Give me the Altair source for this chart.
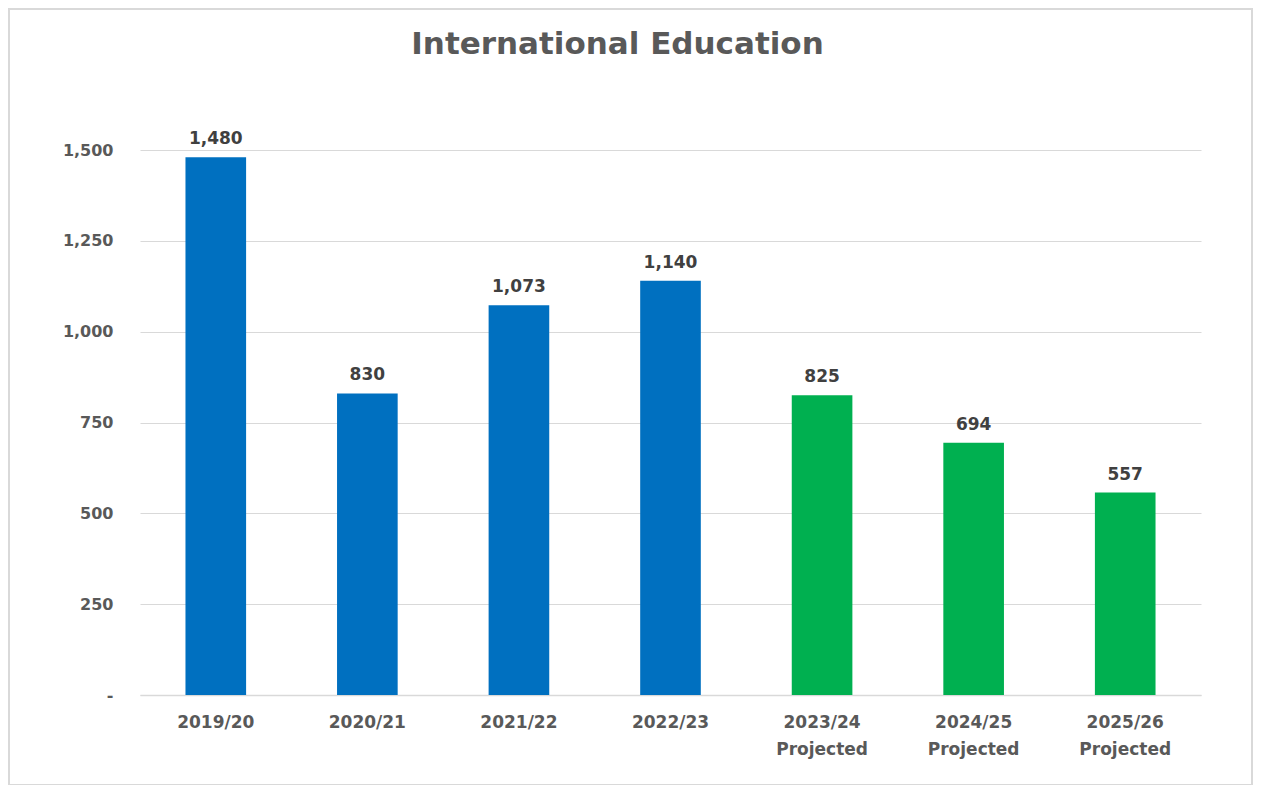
import altair as alt
import pandas as pd

years = ["2019/20", "2020/21", "2021/22", "2022/23",
         "2023/24|Projected", "2024/25|Projected", "2025/26|Projected"]
values = [1480, 830, 1073, 1140, 825, 694, 557]
kind = ["Actual", "Actual", "Actual", "Actual", "Projected", "Projected", "Projected"]
y_ticks = [0, 250, 500, 750, 1000, 1250, 1500]

df = pd.DataFrame({"year": years, "value": values, "kind": kind})

FONT = "DejaVu Sans"
GREY = "#595959"

base = alt.Chart(df).encode(
    x=alt.X("year:N", sort=years, title=None,
            scale=alt.Scale(paddingInner=0.6, paddingOuter=0.3),
            axis=alt.Axis(labelExpr="split(datum.label, '|')", labelAngle=0,
                          labelFont=FONT, labelFontSize=17, labelFontWeight="bold",
                          labelColor=GREY, labelPadding=19, labelLineHeight=27,
                          ticks=False, domainColor="#d9d9d9", domainWidth=1.5,
                          grid=False)),
    y=alt.Y("value:Q", title=None,
            scale=alt.Scale(domain=[0, 1500], nice=False),
            axis=alt.Axis(values=y_ticks,
                          labelExpr="datum.value == 0 ? '-' : format(datum.value, ',')",
                          labelFont=FONT, labelFontSize=16, labelFontWeight="bold",
                          labelColor=GREY, labelPadding=27, ticks=False, domain=False,
                          gridColor="#d9d9d9", gridWidth=1)),
)

bars = base.mark_bar().encode(
    color=alt.Color("kind:N", legend=None,
                    scale=alt.Scale(domain=["Actual", "Projected"],
                                    range=["#0070C0", "#00B050"]))
)

labels = base.mark_text(baseline="bottom", dy=-9, font=FONT, fontSize=17,
                        fontWeight="bold", color="#404040").encode(
    text=alt.Text("value:Q", format=",")
)

frame = alt.Chart(df).mark_rect(fill=None, stroke="#d9d9d9", strokeWidth=1.5).encode(
    x=alt.value(-131), x2=alt.value(1112), y=alt.value(-141), y2=alt.value(635)
)

chart = alt.layer(bars, labels, frame).properties(
    width=1061, height=545,
    padding={"left": 132, "top": 142, "right": 52, "bottom": 90},
    autosize=alt.AutoSizeParams(type="none"),
    title=alt.TitleParams("International Education", font=FONT, fontSize=31,
                          fontWeight="bold", color=GREY, anchor="middle",
                          dx=-53, offset=-53),
).configure_view(stroke=None)

chart.save("out.html", embed_options={"renderer": "svg", "actions": False})
